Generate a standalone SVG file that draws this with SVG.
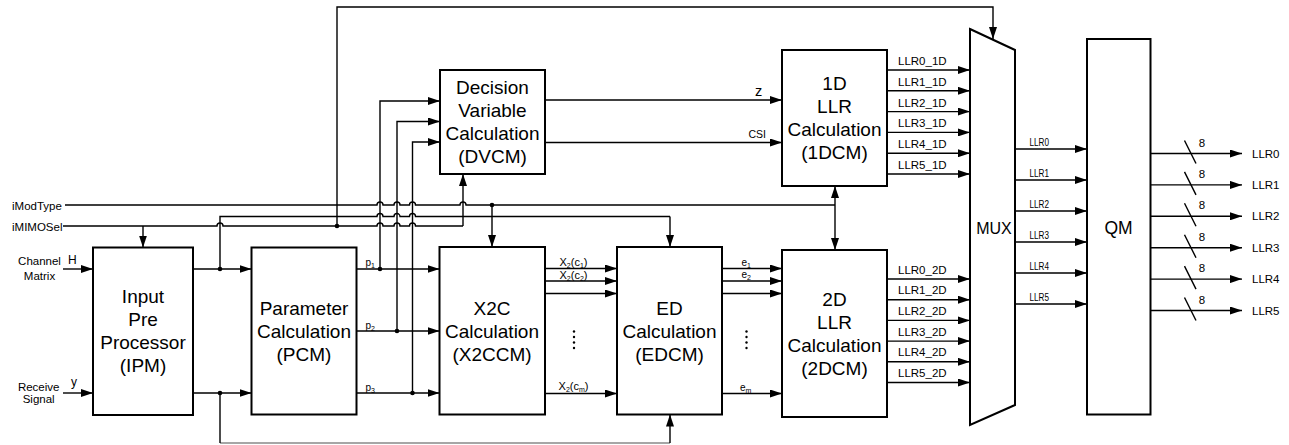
<svg xmlns="http://www.w3.org/2000/svg" width="1289" height="445" viewBox="0 0 1289 445">
<style>
.box{fill:#fff;stroke:#000;stroke-width:2}
.ln{fill:none;stroke:#000;stroke-width:1.4}
.ar{fill:none;stroke:#000;stroke-width:1.4;marker-end:url(#ah)}
.big{font-family:"Liberation Sans",Arial,sans-serif;font-size:19px;text-anchor:middle;fill:#000}
.sm{font-family:"Liberation Sans",Arial,sans-serif;font-size:11.5px;fill:#000}
.xs{font-family:"Liberation Sans",Arial,sans-serif;font-size:10px;fill:#000}
.mo{font-family:"Liberation Sans",Arial,sans-serif;font-size:10.5px;fill:#000}
.dot{fill:#000}
</style>
<defs>
<marker id="ah" markerUnits="userSpaceOnUse" markerWidth="12" markerHeight="8" refX="12" refY="4" orient="auto-start-reverse">
<path d="M0,0 L12,4 L0,8 z" fill="#000"/>
</marker>
</defs>
<rect width="1289" height="445" fill="#fff"/>

<g id="connectors">
<text class="sm" x="12" y="209.5">iModType</text>
<text class="sm" x="12" y="230.5">iMIMOSel</text>
<text class="sm" x="39.5" y="265" text-anchor="middle">Channel</text>
<text class="sm" x="39.5" y="280" text-anchor="middle">Matrix</text>
<text class="sm" x="68" y="264" style="font-size:12px">H</text>
<text class="sm" x="38.7" y="391" text-anchor="middle">Receive</text>
<text class="sm" x="38.7" y="403" text-anchor="middle">Signal</text>
<text class="sm" x="71" y="386" style="font-size:12px">y</text>
<path class="ar" d="M63,269 H93"/>
<path class="ar" d="M63,393 H93"/>

<path class="ln" d="M65,205 H377 a3,3 0 0 1 6,0 H394 a3,3 0 0 1 6,0 H409.5 a3,3 0 0 1 6,0 H460 a3,3 0 0 1 6,0 H835"/>
<circle class="dot" cx="492" cy="205" r="2.3"/>
<path class="ar" d="M492,205 V247"/>
<path class="ln" d="M835,186 V250" marker-start="url(#ah)" marker-end="url(#ah)"/>

<path class="ln" d="M220,269 V216.5 H377 a3,3 0 0 1 6,0 H394 a3,3 0 0 1 6,0 H409.5 a3,3 0 0 1 6,0 H670"/>
<path class="ar" d="M670,216.5 V247"/>

<path class="ln" d="M63,226 H217 a3,3 0 0 1 6,0 H377 a3,3 0 0 1 6,0 H394 a3,3 0 0 1 6,0 H409.5 a3,3 0 0 1 6,0 H463"/>
<path class="ar" d="M463,226 V174"/>
<path class="ar" d="M143,226 V247.5"/>
<circle class="dot" cx="337" cy="226" r="2.3"/>
<path class="ar" d="M337,226 V7 H993 V39"/>

<path class="ar" d="M193,269 H251.5"/>
<path class="ar" d="M193,393 H251.5"/>
<circle class="dot" cx="220" cy="269" r="2.3"/>
<circle class="dot" cx="220" cy="393" r="2.3"/>
<path class="ln" d="M220,443 H670" style="stroke:#888"/>
<path class="ln" d="M220,393 V443"/>
<path class="ar" d="M670,443 V414.5"/>

<path class="ar" d="M356.5,269 H439.5"/>
<path class="ar" d="M356.5,331 H439.5"/>
<path class="ar" d="M356.5,393 H439.5"/>
<text class="xs" x="365.5" y="266">p<tspan font-size="7" dy="2">1</tspan></text>
<text class="xs" x="365.5" y="328.5">p<tspan font-size="7" dy="2">2</tspan></text>
<text class="xs" x="365.5" y="390.5">p<tspan font-size="7" dy="2">3</tspan></text>
<circle class="dot" cx="380" cy="269" r="2.3"/>
<circle class="dot" cx="397" cy="331" r="2.3"/>
<circle class="dot" cx="412.5" cy="393" r="2.3"/>
<path class="ar" d="M380,269 V101 H440"/>
<path class="ar" d="M397,331 V121.5 H440"/>
<path class="ar" d="M412.5,393 V142 H440"/>

<path class="ar" d="M545,100 H782"/>
<path class="ar" d="M545,142.5 H782"/>
<text class="sm" x="755" y="95.5" style="font-size:14.5px">z</text>
<text class="xs" x="748.5" y="137.5" style="font-size:10.5px">CSI</text>

<path class="ar" d="M545,268.5 H617"/>
<path class="ar" d="M545,281 H617"/>
<path class="ar" d="M545,293.5 H617"/>
<path class="ar" d="M545,393.5 H617"/>
<text class="xs" x="573.5" y="265.5" text-anchor="middle" style="font-size:11px">X<tspan font-size="7" dy="2">2</tspan><tspan dy="-2">(c</tspan><tspan font-size="7" dy="2">1</tspan><tspan dy="-2">)</tspan></text>
<text class="xs" x="573.5" y="278.5" text-anchor="middle" style="font-size:11px">X<tspan font-size="7" dy="2">2</tspan><tspan dy="-2">(c</tspan><tspan font-size="7" dy="2">2</tspan><tspan dy="-2">)</tspan></text>
<text class="xs" x="573.5" y="389.5" text-anchor="middle" style="font-size:11px">X<tspan font-size="7" dy="2">2</tspan><tspan dy="-2">(c</tspan><tspan font-size="7" dy="2">m</tspan><tspan dy="-2">)</tspan></text>
<circle class="dot" cx="574" cy="331.5" r="1.2"/>
<circle class="dot" cx="574" cy="337" r="1.2"/>
<circle class="dot" cx="574" cy="342.5" r="1.2"/>
<circle class="dot" cx="574" cy="348" r="1.2"/>

<path class="ar" d="M722,268.5 H782"/>
<path class="ar" d="M722,281 H782"/>
<path class="ar" d="M722,293.5 H782"/>
<path class="ar" d="M722,393.5 H782"/>
<text class="xs" x="741.5" y="265.5">e<tspan font-size="7" dy="2">1</tspan></text>
<text class="xs" x="741.5" y="278">e<tspan font-size="7" dy="2">2</tspan></text>
<text class="xs" x="740" y="390.5">e<tspan font-size="7" dy="2">m</tspan></text>
<circle class="dot" cx="746.5" cy="331.5" r="1.2"/>
<circle class="dot" cx="746.5" cy="337" r="1.2"/>
<circle class="dot" cx="746.5" cy="342.5" r="1.2"/>
<circle class="dot" cx="746.5" cy="348" r="1.2"/>

<path class="ar" d="M887,70 H970"/>
<path class="ar" d="M887,90.8 H970"/>
<path class="ar" d="M887,111.6 H970"/>
<path class="ar" d="M887,132.4 H970"/>
<path class="ar" d="M887,153.2 H970"/>
<path class="ar" d="M887,174 H970"/>
<text class="sm" x="898" y="65">LLR0_1D</text>
<text class="sm" x="898" y="85.8">LLR1_1D</text>
<text class="sm" x="898" y="106.6">LLR2_1D</text>
<text class="sm" x="898" y="127.4">LLR3_1D</text>
<text class="sm" x="898" y="148.2">LLR4_1D</text>
<text class="sm" x="898" y="169">LLR5_1D</text>

<path class="ar" d="M887,279 H970"/>
<path class="ar" d="M887,299.7 H970"/>
<path class="ar" d="M887,320.4 H970"/>
<path class="ar" d="M887,341.1 H970"/>
<path class="ar" d="M887,361.8 H970"/>
<path class="ar" d="M887,382.5 H970"/>
<text class="sm" x="898" y="273.5">LLR0_2D</text>
<text class="sm" x="898" y="294.2">LLR1_2D</text>
<text class="sm" x="898" y="314.9">LLR2_2D</text>
<text class="sm" x="898" y="335.6">LLR3_2D</text>
<text class="sm" x="898" y="356.3">LLR4_2D</text>
<text class="sm" x="898" y="377">LLR5_2D</text>

<path class="ar" d="M1015,149 H1087"/>
<path class="ar" d="M1015,180 H1087"/>
<path class="ar" d="M1015,211 H1087"/>
<path class="ar" d="M1015,242 H1087"/>
<path class="ar" d="M1015,273 H1087"/>
<path class="ar" d="M1015,304 H1087"/>
<text class="mo" x="1029.5" y="146" textLength="19.5" lengthAdjust="spacingAndGlyphs">LLR0</text>
<text class="mo" x="1029.5" y="177" textLength="19.5" lengthAdjust="spacingAndGlyphs">LLR1</text>
<text class="mo" x="1029.5" y="208" textLength="19.5" lengthAdjust="spacingAndGlyphs">LLR2</text>
<text class="mo" x="1029.5" y="239" textLength="19.5" lengthAdjust="spacingAndGlyphs">LLR3</text>
<text class="mo" x="1029.5" y="270" textLength="19.5" lengthAdjust="spacingAndGlyphs">LLR4</text>
<text class="mo" x="1029.5" y="301" textLength="19.5" lengthAdjust="spacingAndGlyphs">LLR5</text>

<path class="ar" d="M1150.5,153.5 H1242"/>
<path class="ar" d="M1150.5,184.9 H1242"/>
<path class="ar" d="M1150.5,216.3 H1242"/>
<path class="ar" d="M1150.5,247.7 H1242"/>
<path class="ar" d="M1150.5,279.1 H1242"/>
<path class="ar" d="M1150.5,310.5 H1242"/>
<path class="ln" d="M1184.5,140.5 L1196,163.5 M1184.5,171.9 L1196,194.9 M1184.5,203.3 L1196,226.3 M1184.5,234.7 L1196,257.7 M1184.5,266.1 L1196,289.1 M1184.5,297.5 L1196,320.5"/>
<text class="sm" x="1202" y="146.5" text-anchor="middle">8</text>
<text class="sm" x="1202" y="177.9" text-anchor="middle">8</text>
<text class="sm" x="1202" y="209.3" text-anchor="middle">8</text>
<text class="sm" x="1202" y="240.7" text-anchor="middle">8</text>
<text class="sm" x="1202" y="272.1" text-anchor="middle">8</text>
<text class="sm" x="1202" y="303.5" text-anchor="middle">8</text>
<text class="sm" x="1252" y="157.5">LLR0</text>
<text class="sm" x="1252" y="188.9">LLR1</text>
<text class="sm" x="1252" y="220.3">LLR2</text>
<text class="sm" x="1252" y="251.7">LLR3</text>
<text class="sm" x="1252" y="283.1">LLR4</text>
<text class="sm" x="1252" y="314.5">LLR5</text>
</g>

<g id="ipm">
<rect class="box" x="93" y="247.5" width="100" height="167.5"/>
<text class="big" x="143" y="302.5">Input</text>
<text class="big" x="143" y="325.5">Pre</text>
<text class="big" x="143" y="348.5">Processor</text>
<text class="big" x="143" y="371.5">(IPM)</text>
</g>

<g id="pcm">
<rect class="box" x="251.5" y="247.5" width="105" height="167"/>
<text class="big" x="304" y="315">Parameter</text>
<text class="big" x="304" y="338">Calculation</text>
<text class="big" x="304" y="361">(PCM)</text>
</g>

<g id="dvcm">
<rect class="box" x="440" y="70" width="105" height="104"/>
<text class="big" x="492.5" y="94">Decision</text>
<text class="big" x="492.5" y="117">Variable</text>
<text class="big" x="492.5" y="140">Calculation</text>
<text class="big" x="492.5" y="163">(DVCM)</text>
</g>

<g id="x2ccm">
<rect class="box" x="439.5" y="247" width="105.5" height="167.5"/>
<text class="big" x="492" y="315">X2C</text>
<text class="big" x="492" y="338">Calculation</text>
<text class="big" x="492" y="361">(X2CCM)</text>
</g>

<g id="edcm">
<rect class="box" x="617" y="247" width="105" height="167.5"/>
<text class="big" x="669.5" y="315">ED</text>
<text class="big" x="669.5" y="338">Calculation</text>
<text class="big" x="669.5" y="361">(EDCM)</text>
</g>

<g id="dcm1">
<rect class="box" x="782" y="50" width="105" height="136"/>
<text class="big" x="834.5" y="89.5">1D</text>
<text class="big" x="834.5" y="112.5">LLR</text>
<text class="big" x="834.5" y="135.5">Calculation</text>
<text class="big" x="834.5" y="158.5">(1DCM)</text>
</g>

<g id="dcm2">
<rect class="box" x="782" y="250" width="105" height="167"/>
<text class="big" x="834.5" y="305.5">2D</text>
<text class="big" x="834.5" y="328.5">LLR</text>
<text class="big" x="834.5" y="351.5">Calculation</text>
<text class="big" x="834.5" y="374.5">(2DCM)</text>
</g>

<g id="mux">
<polygon class="box" points="970,29 1015,50 1015,405 970,425"/>
<text class="big" x="994" y="233.5" style="font-size:16px">MUX</text>
</g>

<g id="qm">
<rect class="box" x="1087" y="39" width="63.5" height="375.5"/>
<text class="big" x="1118.5" y="233.5" style="font-size:17.5px">QM</text>
</g>
</svg>
